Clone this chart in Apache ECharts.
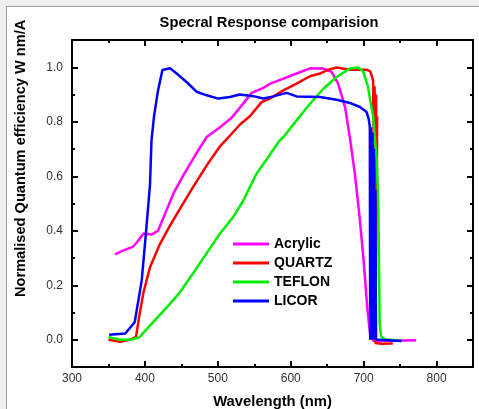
<!DOCTYPE html>
<html>
<head>
<meta charset="utf-8">
<script src="https://cdn.jsdelivr.net/npm/echarts@6/dist/echarts.min.js"></script>
<style>
html,body{margin:0;padding:0;background:#f0f0ec;}
#chart{width:479px;height:409px;}
</style>
</head>
<body>
<div id="chart"></div>
<script>
var titleText = 'Specral Response comparision';
var xAxisName = 'Wavelength (nm)';
var yAxisName = 'Normalised Quantum efficiency W nm/A';
var seriesNames = ['Acrylic', 'QUARTZ', 'TEFLON', 'LICOR'];
var xMajorTicks = [300, 400, 500, 600, 700, 800];
var yMajorTicks = [0, 0.2, 0.4, 0.6, 0.8, 1.0];
var yMinorTicks = [0.1, 0.3, 0.5, 0.7, 0.9];

var acrylicData = [
  [359,0.313],[370,0.327],[384,0.342],[391,0.364],[398,0.39],[404,0.388],[409,0.386],[418,0.40],
  [427.6,0.462],[439,0.536],[452.7,0.603],[468.7,0.676],[484.8,0.744],[503,0.78],[519,0.815],
  [532.8,0.86],[546.5,0.906],[562.4,0.924],[572,0.94],[590,0.958],[608,0.977],[626.5,0.996],
  [644.7,0.995],[656,0.983],[665,0.94],[674.5,0.854],[681,0.744],[688,0.609],[694,0.462],
  [699.6,0.303],[705,0.119],[708.8,0.021],[713,-0.004],[740,-0.004],[772,-0.002]
];
var quartzData = [
  [350,0.0],[366,-0.007],[379.6,0.0],[387.8,0.011],[392,0.082],[398,0.174],[407,0.266],
  [420.7,0.352],[434.4,0.419],[448,0.48],[466,0.56],[484.8,0.64],[503,0.71],[519,0.756],
  [530.4,0.79],[544,0.82],[560,0.872],[572,0.886],[590,0.915],[608,0.94],[626.5,0.967],
  [640,0.977],[651.6,0.991],[663,0.999],[681,0.991],[704,0.991],[709,0.985],[711,0.97],
  [713,0.95],[714,0.62],[715,0.93],[716,0.55],[717,0.9],[718,0.45],[718.5,0.82],[717,0.3],
  [716.5,0.1],[716,-0.012],[725,-0.015],[740,-0.014]
];
var teflonData = [
  [350,0.009],[366,0.0],[380,0.0],[392,0.008],[409,0.058],[430,0.119],[448,0.174],
  [468.7,0.254],[487,0.327],[503,0.39],[521,0.45],[535,0.511],[544,0.56],[553,0.609],
  [569,0.67],[585,0.732],[590,0.744],[608,0.805],[626.5,0.866],[644.7,0.921],[663,0.964],
  [681,0.995],[692.7,0.999],[699.6,0.983],[706,0.928],[709,0.88],[713,0.82],[716,0.72],
  [718,0.66],[720,0.5],[721,0.3],[722,0.06],[724,0.012],[729,0.002],[752,-0.004]
];
var licorData = [
  [351,0.018],[373,0.023],[386,0.064],[395.6,0.217],[402,0.41],[407,0.57],[409,0.73],
  [412.5,0.82],[418,0.915],[424,0.99],[434.4,0.996],[443.6,0.977],[457,0.946],[471,0.91],
  [484.7,0.897],[500.7,0.885],[516.7,0.891],[530,0.9],[548.7,0.894],[562.4,0.885],
  [576,0.893],[594.5,0.906],[608,0.893],[640,0.891],[663,0.881],[681,0.869],[695,0.854],
  [704,0.836],[707,0.81],[708.5,0.78],[709,0.0],[710,0.78],[711,0.0],[712,0.76],[713,0.0],
  [714,0.7],[715,0.0],[716,0.55],[717,0.0],[720,0.0],[752,-0.005]
];

var colors = ['#ff00ff', '#ff0000', '#00ee00', '#0000ff'];
var dataList = [acrylicData, quartzData, teflonData, licorData];

var chart = echarts.init(document.getElementById('chart'), null, {renderer: 'canvas'});

var FONT = 'Liberation Sans, Arial';
var baseX = {
  type: 'value', min: 300, max: 850, interval: 100,
  axisLine: {show: true, onZero: false, lineStyle: {color: '#000', width: 2}},
  axisTick: {show: true, inside: true, length: 6, lineStyle: {color: '#000', width: 2}},
  minorTick: {show: true, splitNumber: 2, length: 3, lineStyle: {color: '#000', width: 2}},
  splitLine: {show: false}
};
function yAx(pos, ticks, len, line, labels) {
  return {
    type: 'value', position: pos, min: -0.1, max: 1.1,
    axisLine: {show: line, onZero: false, lineStyle: {color: '#000', width: 2}},
    axisTick: {show: true, inside: true, length: len, customValues: ticks, lineStyle: {color: '#000', width: 2}},
    axisLabel: labels ? {show: true, customValues: ticks, color: '#333', fontSize: 12, fontFamily: FONT, margin: 9,
      formatter: function (v) { return v.toFixed(1); }} : {show: false},
    splitLine: {show: false}
  };
}

var option = {
  backgroundColor: '#f0f0ec',
  animation: false,
  title: {
    text: titleText, left: 264, top: 10, textAlign: 'center',
    textStyle: {fontSize: 14.7, fontWeight: 'bold', color: '#000', fontFamily: FONT}
  },
  graphic: [
    {type: 'rect', z: -10, shape: {x: 6.5, y: 6.5, width: 600, height: 600},
     style: {fill: '#ffffff', stroke: '#a0a0a0', lineWidth: 1}},
    {type: 'text', x: 21, y: 297, rotation: Math.PI / 2,
     style: {text: yAxisName, x: 0, y: 0, align: 'left', verticalAlign: 'middle',
       font: 'bold 14.6px "Liberation Sans", Arial', fill: '#000'}}
  ],
  legend: {
    data: seriesNames, orient: 'vertical', left: 228, top: 232,
    itemWidth: 36, itemHeight: 14, itemGap: 5, icon: 'path://M0,6 L36,6 L36,9 L0,9 Z',
    textStyle: {fontSize: 14, fontWeight: 'bold', color: '#000', fontFamily: FONT}
  },
  grid: {left: 72, right: 6, top: 40, bottom: 42, containLabel: false, outerBoundsMode: 'none'},
  xAxis: [
    Object.assign({}, baseX, {position: 'bottom', name: xAxisName, nameLocation: 'middle', nameGap: 27,
      nameTextStyle: {fontSize: 14.8, fontWeight: 'bold', color: '#000', fontFamily: FONT},
      axisLabel: {show: true, customValues: xMajorTicks, color: '#333', fontSize: 12, margin: 6, fontFamily: FONT}}),
    Object.assign({}, baseX, {position: 'top', axisLabel: {show: false}})
  ],
  yAxis: [
    yAx('left', yMajorTicks, 6, true, true),
    yAx('left', yMinorTicks, 3, false, false),
    yAx('right', yMajorTicks, 6, true, false),
    yAx('right', yMinorTicks, 3, false, false)
  ],
  series: seriesNames.map(function (n, i) {
    return {
      name: n, type: 'line', data: dataList[i], symbol: 'none', smooth: false,
      xAxisIndex: 0, yAxisIndex: 0,
      itemStyle: {color: colors[i]},
      lineStyle: {color: colors[i], width: 2.5}
    };
  })
};
chart.setOption(option);
</script>
</body>
</html>
